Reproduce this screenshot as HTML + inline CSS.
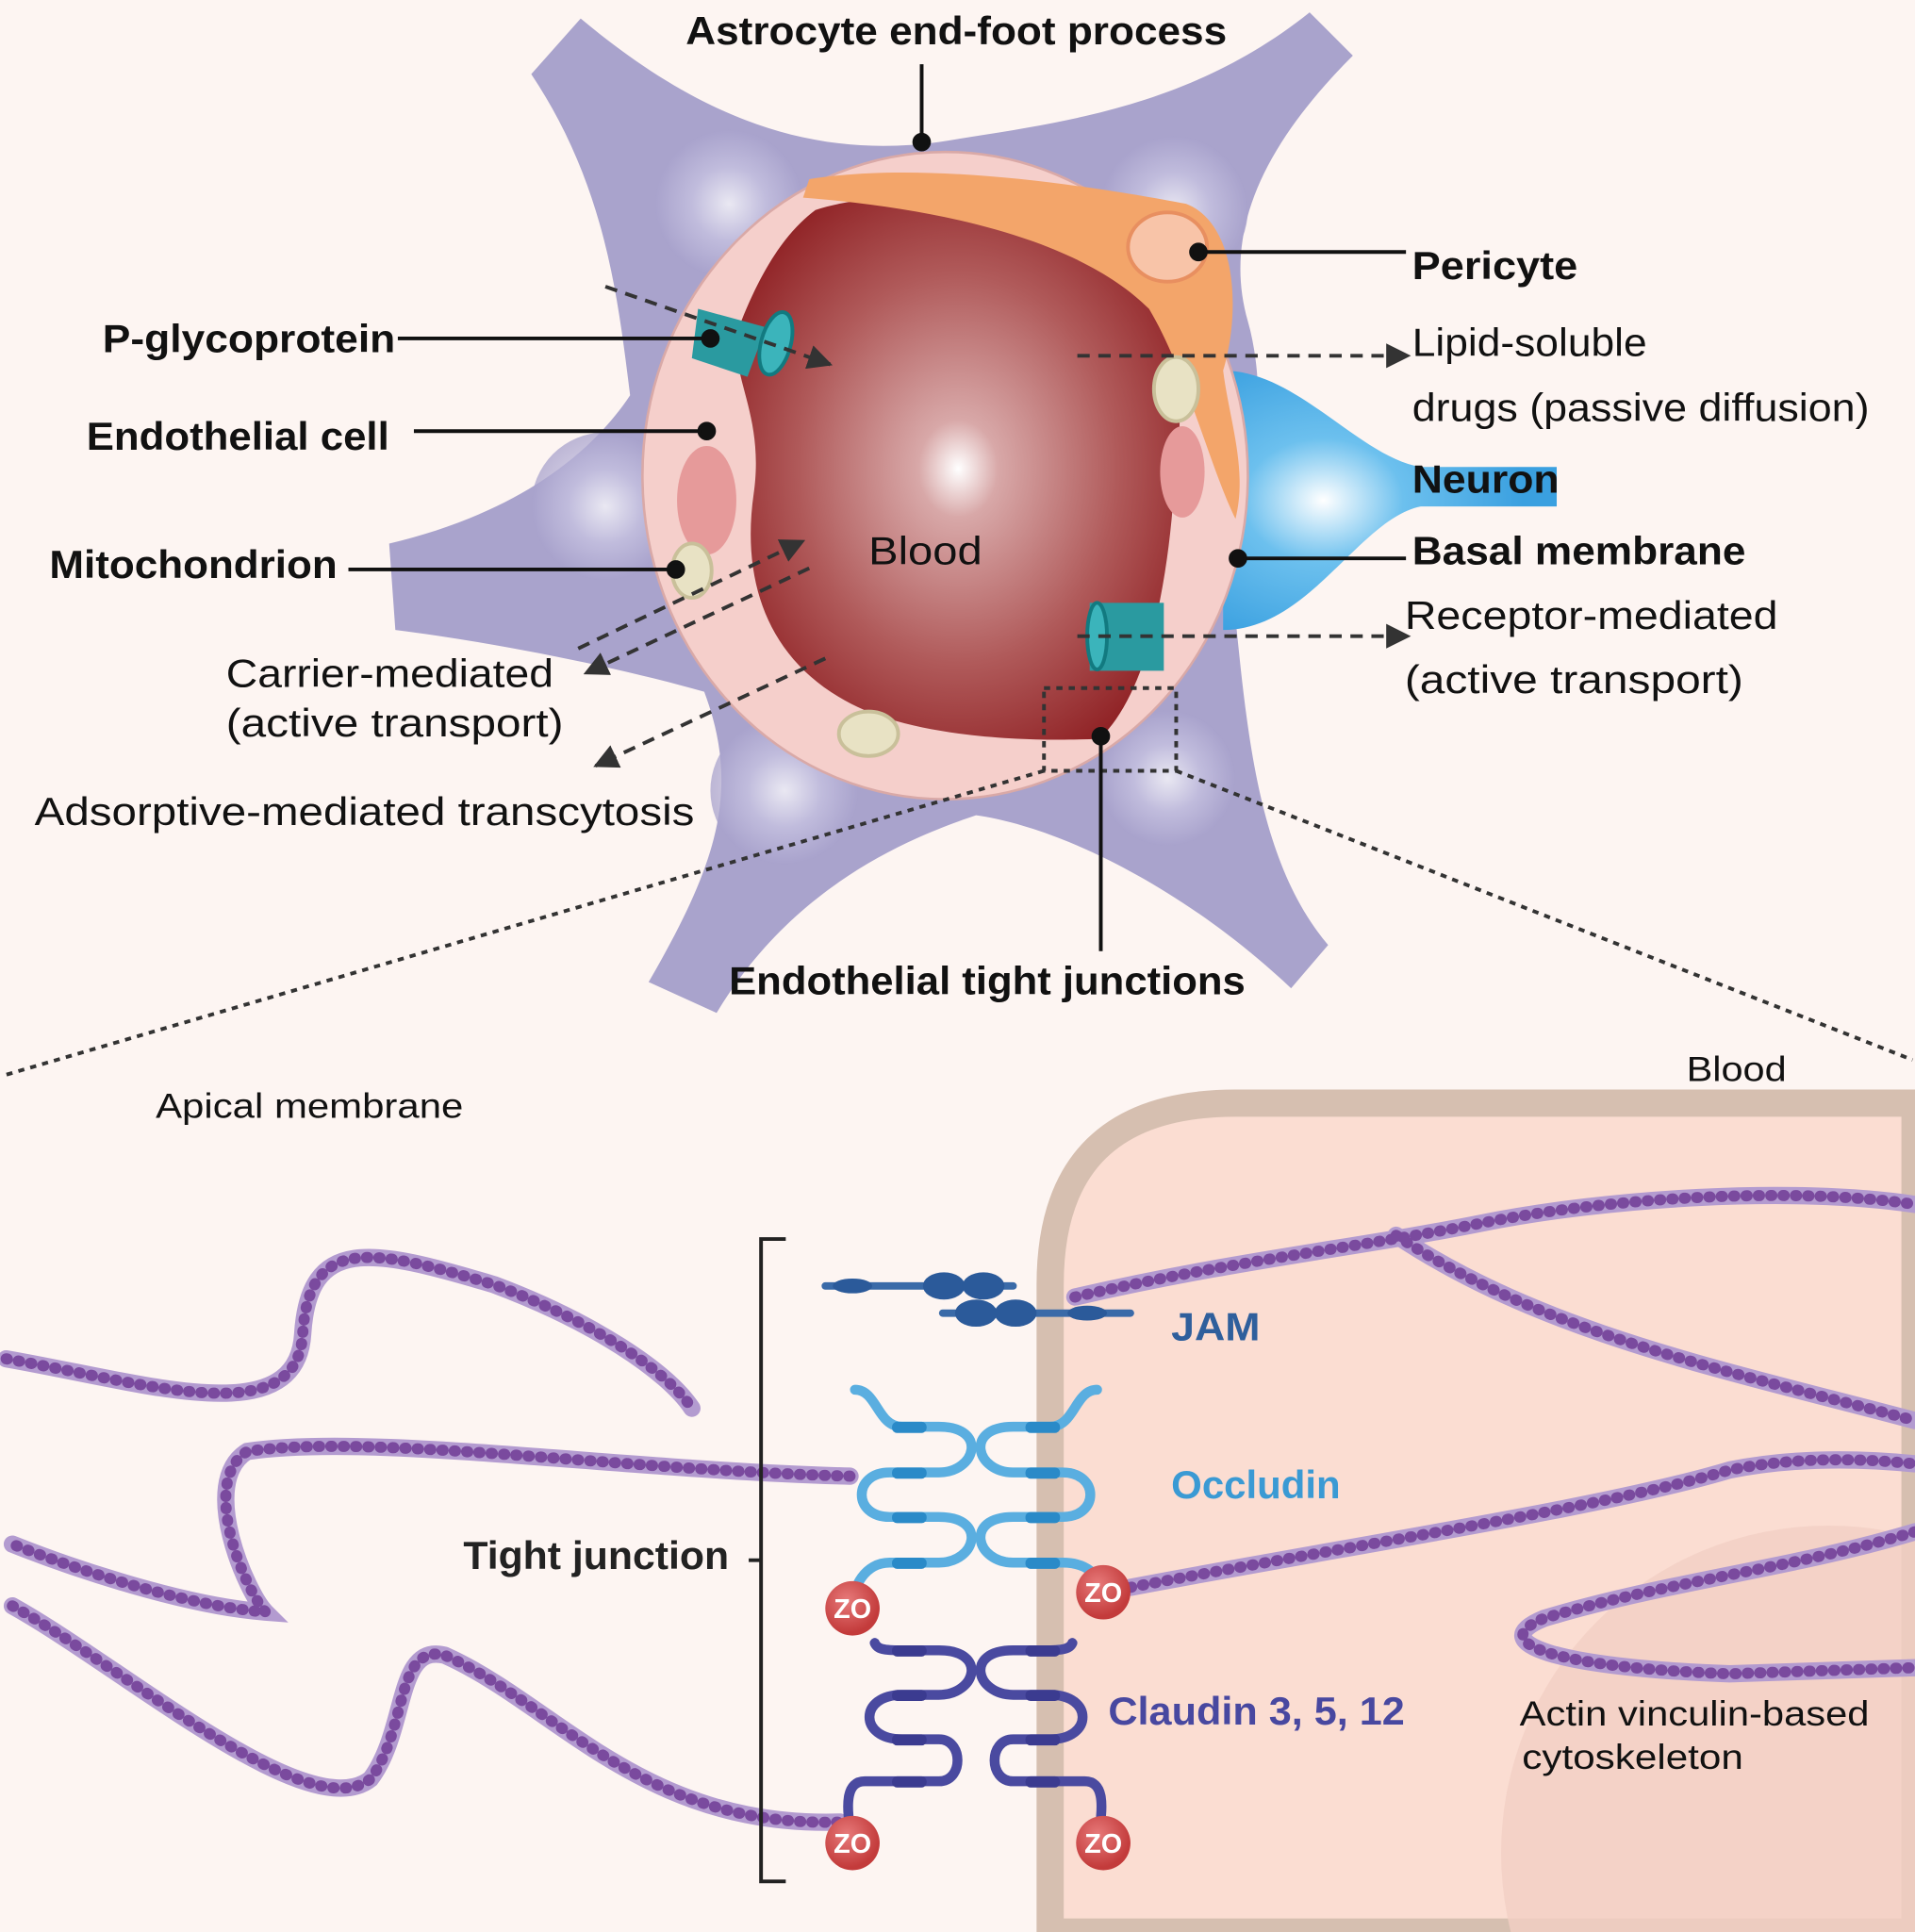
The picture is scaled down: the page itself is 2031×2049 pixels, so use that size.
<!DOCTYPE html>
<html><head><meta charset="utf-8"><style>
html,body{margin:0;padding:0;background:#fdf5f2;overflow:hidden;width:2031px;height:2049px}
svg{display:block}
text{font-family:"Liberation Sans",sans-serif}
</style></head><body>
<svg width="2031" height="2049" viewBox="0 0 1550 1564" preserveAspectRatio="none" xmlns="http://www.w3.org/2000/svg">
<defs>
<radialGradient id="blood" cx="0.5" cy="0.5" r="0.6">
<stop offset="0" stop-color="#ffffff"/><stop offset="0.15" stop-color="#d8a8a8"/><stop offset="0.6" stop-color="#b05a5a"/><stop offset="1" stop-color="#8e1f22"/></radialGradient>
<radialGradient id="astro" cx="0.5" cy="0.5" r="0.5">
<stop offset="0" stop-color="#ffffff"/><stop offset="0.5" stop-color="#c8c4e2"/><stop offset="1" stop-color="#a8a2cc"/></radialGradient>
<radialGradient id="neu" cx="0.3" cy="0.5" r="0.6">
<stop offset="0" stop-color="#ffffff"/><stop offset="0.4" stop-color="#6cc0ee"/><stop offset="1" stop-color="#3aa0e0"/></radialGradient>
<radialGradient id="zo" cx="0.4" cy="0.35" r="0.6"><stop offset="0" stop-color="#e77a7a"/><stop offset="1" stop-color="#c33b3b"/></radialGradient>
<marker id="a2" viewBox="0 0 10 10" markerWidth="20" markerHeight="20" refX="9" refY="5" orient="auto" markerUnits="userSpaceOnUse"><path d="M0,0 L10,5 L0,10z" fill="#333"/></marker>
</defs>
<rect width="1550" height="1564" fill="#fdf5f2"/>
<!-- astrocyte -->
<g fill="#a9a3cc">
<path d="M430,60 L470,15 C560,90 650,130 760,115 C850,100 960,90 1060,10 L1095,45 C1020,120 990,190 1010,260 C1030,330 1010,420 1000,500 C1010,600 1020,700 1075,765 L1045,800 C960,720 860,670 790,660 C730,680 640,720 580,820 L525,795 C580,700 600,640 570,560 C500,540 400,520 320,510 L315,440 C400,420 470,380 510,320 C500,240 490,150 430,60z"/>
</g>
<g fill="url(#astro)" opacity="0.75">
<circle cx="590" cy="165" r="60"/><circle cx="950" cy="170" r="60"/><circle cx="490" cy="410" r="60"/><circle cx="635" cy="640" r="60"/><circle cx="945" cy="630" r="55"/>
</g>
<!-- neuron -->
<path d="M990,300 C1050,300 1100,370 1150,378 L1260,378 L1260,410 L1150,410 C1100,420 1060,510 990,510z" fill="url(#neu)"/>
<!-- vessel -->
<ellipse cx="765" cy="385" rx="245" ry="262" fill="#f5cfcb" stroke="#d9a9a7" stroke-width="2"/>
<path d="M660,170 C720,150 830,160 900,200 C960,240 960,320 950,400 C945,470 930,560 890,598 C850,600 760,600 700,575 C620,540 600,470 610,400 C620,330 585,300 600,260 C620,210 640,185 660,170z" fill="url(#blood)"/>
<!-- pericyte -->
<path d="M655,145 C750,130 880,150 960,165 C1000,180 1005,250 990,300 C995,340 1010,380 1000,420 C980,380 960,300 930,250 C880,200 780,170 650,160z" fill="#f3a56a"/>
<ellipse cx="945" cy="200" rx="32" ry="28" fill="#f8c4a8" stroke="#e88f60" stroke-width="3"/>
<!-- nuclei & mito -->
<ellipse cx="572" cy="405" rx="24" ry="44" fill="#e69a9a"/>
<ellipse cx="957" cy="382" rx="18" ry="37" fill="#e69a9a"/>
<g fill="#e8e2c4" stroke="#c9c09a" stroke-width="3">
<ellipse cx="952" cy="315" rx="18" ry="26"/><ellipse cx="560" cy="462" rx="16" ry="22"/><ellipse cx="703" cy="594" rx="24" ry="18"/></g>
<!-- transporters -->
<g><path d="M565,250 L620,265 L605,305 L560,290z" fill="#2a9aa0"/><ellipse cx="628" cy="278" rx="12" ry="26" fill="#3bb4bb" stroke="#127a80" stroke-width="3" transform="rotate(15 628 278)"/></g>
<g><rect x="882" y="488" width="60" height="55" fill="#2a9aa0"/><ellipse cx="888" cy="515" rx="8" ry="27" fill="#3bb4bb" stroke="#127a80" stroke-width="3"/></g>
<!-- dashed arrows -->
<g stroke="#333" stroke-width="3" stroke-dasharray="10 7" fill="none" marker-end="url(#a2)">
<path d="M490,232 L672,295"/><path d="M872,288 L1140,288"/><path d="M872,515 L1140,515"/>
<path d="M468,525 L650,438"/><path d="M655,460 L474,545"/><path d="M668,533 L482,620"/>
</g>
<!-- zoom box -->
<g stroke="#333" stroke-width="3" stroke-dasharray="5 5" fill="none">
<rect x="845" y="557" width="107" height="67"/>
<path d="M845,624 L5,870"/><path d="M952,624 L1548,858"/>
</g>
<!-- leaders -->
<g stroke="#111" stroke-width="3" fill="#111">
<line x1="746" y1="52" x2="746" y2="115"/><circle cx="746" cy="115" r="6"/>
<line x1="970" y1="204" x2="1138" y2="204"/><circle cx="970" cy="204" r="6"/>
<line x1="322" y1="274" x2="575" y2="274"/><circle cx="575" cy="274" r="6"/>
<line x1="335" y1="349" x2="572" y2="349"/><circle cx="572" cy="349" r="6"/>
<line x1="282" y1="461" x2="547" y2="461"/><circle cx="547" cy="461" r="6"/>
<line x1="1002" y1="452" x2="1138" y2="452"/><circle cx="1002" cy="452" r="6"/>
<line x1="891" y1="596" x2="891" y2="770"/><circle cx="891" cy="596" r="6"/>
</g>
<!-- top labels -->
<g font-weight="bold" font-size="32" fill="#111" lengthAdjust="spacingAndGlyphs">
<text x="555" y="36" textLength="438" lengthAdjust="spacingAndGlyphs">Astrocyte end-foot process</text>
<text x="1143" y="226" textLength="134" lengthAdjust="spacingAndGlyphs">Pericyte</text>
<text x="83" y="285" textLength="237" lengthAdjust="spacingAndGlyphs">P-glycoprotein</text>
<text x="70" y="364" textLength="245" lengthAdjust="spacingAndGlyphs">Endothelial cell</text>
<text x="1143" y="399" textLength="119" lengthAdjust="spacingAndGlyphs">Neuron</text>
<text x="40" y="468" textLength="233" lengthAdjust="spacingAndGlyphs">Mitochondrion</text>
<text x="1143" y="457" textLength="270" lengthAdjust="spacingAndGlyphs">Basal membrane</text>
<text x="590" y="805" textLength="418" lengthAdjust="spacingAndGlyphs">Endothelial tight junctions</text>
</g>
<g font-size="32" fill="#111">
<text x="1143" y="288" textLength="190" lengthAdjust="spacingAndGlyphs">Lipid-soluble</text>
<text x="1143" y="341" textLength="370" lengthAdjust="spacingAndGlyphs">drugs (passive diffusion)</text>
<text x="1137" y="509" textLength="302" lengthAdjust="spacingAndGlyphs">Receptor-mediated</text>
<text x="1137" y="561" textLength="274" lengthAdjust="spacingAndGlyphs">(active transport)</text>
<text x="183" y="556" textLength="265" lengthAdjust="spacingAndGlyphs">Carrier-mediated</text>
<text x="183" y="596" textLength="273" lengthAdjust="spacingAndGlyphs">(active transport)</text>
<text x="28" y="668" textLength="534" lengthAdjust="spacingAndGlyphs">Adsorptive-mediated transcytosis</text>
<text x="703" y="457" textLength="92" lengthAdjust="spacingAndGlyphs">Blood</text>
</g>
<!-- bottom cell -->
<path d="M850,1564 L850,1040 Q850,893 1000,893 L1550,893 L1550,1564z" fill="#fbddd2" stroke="#d6bfb0" stroke-width="22"/>
<circle cx="1480" cy="1500" r="265" fill="#f3d0c4" opacity="0.8"/>
<g font-size="28" fill="#111">
<text x="1365" y="875" textLength="81" lengthAdjust="spacingAndGlyphs">Blood</text>
<text x="126" y="905" textLength="249" lengthAdjust="spacingAndGlyphs">Apical membrane</text>
<text x="1230" y="1397" textLength="283" lengthAdjust="spacingAndGlyphs">Actin vinculin-based</text>
<text x="1232" y="1432" textLength="179" lengthAdjust="spacingAndGlyphs">cytoskeleton</text>
</g>
<!-- actin -->
<g fill="none" stroke-linecap="round">
<g stroke="#b39bd0" stroke-width="14">
<path id="s1" d="M5,1100 C120,1120 240,1160 245,1080 C250,1000 300,1010 400,1040 C480,1070 540,1110 560,1140"/>
<path id="s2" d="M688,1195 C500,1190 300,1160 200,1175 C160,1200 200,1290 215,1305 C150,1300 60,1270 10,1250"/>
<path id="s3" d="M10,1300 C100,1350 250,1480 300,1440 C330,1400 320,1330 360,1340 C450,1380 520,1480 680,1475"/>
<path id="s4" d="M870,1050 C1000,1020 1100,1010 1200,990 C1300,970 1450,960 1550,975"/>
<path id="s5" d="M1130,1000 C1250,1080 1400,1110 1550,1150"/>
<path id="s6" d="M915,1285 C1100,1250 1300,1220 1400,1190 C1450,1180 1500,1180 1550,1185"/>
<path id="s7" d="M1550,1240 C1450,1270 1350,1280 1250,1310 C1200,1330 1260,1350 1400,1355 L1550,1350"/>
</g>
<g stroke="#7a4a9e" stroke-width="9" stroke-dasharray="1 9">
<use href="#s1"/><use href="#s2"/><use href="#s3"/><use href="#s4"/><use href="#s5"/><use href="#s6"/><use href="#s7"/>
</g>
</g>
<!-- bracket -->
<path d="M636,1003 L616,1003 L616,1523 L636,1523 M616,1263 L606,1263" stroke="#222" stroke-width="3" fill="none"/>
<text x="375" y="1270" font-size="32" font-weight="bold" fill="#222" textLength="215" lengthAdjust="spacingAndGlyphs">Tight junction</text>
<!-- JAM -->
<g stroke="#3a6aa8" stroke-width="6" stroke-linecap="round">
<line x1="668" y1="1041" x2="820" y2="1041"/><line x1="763" y1="1063" x2="915" y2="1063"/></g>
<g fill="#2b5a9a"><ellipse cx="690" cy="1041" rx="16" ry="6"/><ellipse cx="764" cy="1041" rx="17" ry="11"/><ellipse cx="796" cy="1041" rx="17" ry="11"/><ellipse cx="790" cy="1063" rx="17" ry="11"/><ellipse cx="822" cy="1063" rx="17" ry="11"/><ellipse cx="880" cy="1063" rx="16" ry="6"/></g>
<text x="948" y="1085" font-size="32" font-weight="bold" fill="#2f5f9c" textLength="72" lengthAdjust="spacingAndGlyphs">JAM</text>
<!-- Occludin -->
<g fill="none" stroke="#5aaee0" stroke-width="8" stroke-linecap="round">
<path d="M692,1125 C710,1125 710,1155 730,1155 L760,1155 C800,1155 790,1192 760,1192 L720,1192 C690,1192 690,1228 720,1228 L760,1228 C800,1228 790,1265 760,1265 L720,1265 C700,1265 690,1285 690,1300"/>
<path d="M888,1125 C870,1125 870,1155 850,1155 L820,1155 C780,1155 790,1192 820,1192 L860,1192 C890,1192 890,1228 860,1228 L820,1228 C780,1228 790,1265 820,1265 L860,1265 C880,1265 890,1275 893,1290"/>
</g>
<g fill="#2a8ac8"><rect x="722" y="1151" width="28" height="9" rx="4"/><rect x="722" y="1188" width="28" height="9" rx="4"/><rect x="722" y="1224" width="28" height="9" rx="4"/><rect x="722" y="1261" width="28" height="9" rx="4"/><rect x="830" y="1151" width="28" height="9" rx="4"/><rect x="830" y="1188" width="28" height="9" rx="4"/><rect x="830" y="1224" width="28" height="9" rx="4"/><rect x="830" y="1261" width="28" height="9" rx="4"/></g>
<text x="948" y="1213" font-size="32" font-weight="bold" fill="#3a9ad4" textLength="137" lengthAdjust="spacingAndGlyphs">Occludin</text>
<!-- Claudin -->
<g fill="none" stroke="#4a4aa0" stroke-width="8" stroke-linecap="round">
<path d="M708,1330 C710,1335 715,1336 730,1336 L760,1336 C800,1336 790,1372 760,1372 L730,1372 C695,1372 695,1408 730,1408 L760,1408 C780,1408 780,1442 760,1442 L700,1442 C685,1442 685,1460 688,1480"/>
<path d="M868,1330 C866,1335 860,1336 845,1336 L820,1336 C780,1336 790,1372 820,1372 L850,1372 C885,1372 885,1408 850,1408 L820,1408 C800,1408 800,1442 820,1442 L878,1442 C893,1442 893,1460 890,1480"/>
</g>
<g fill="#3b3b90"><rect x="722" y="1332" width="28" height="9" rx="4"/><rect x="722" y="1368" width="28" height="9" rx="4"/><rect x="722" y="1404" width="28" height="9" rx="4"/><rect x="722" y="1438" width="28" height="9" rx="4"/><rect x="830" y="1332" width="28" height="9" rx="4"/><rect x="830" y="1368" width="28" height="9" rx="4"/><rect x="830" y="1404" width="28" height="9" rx="4"/><rect x="830" y="1438" width="28" height="9" rx="4"/></g>
<text x="897" y="1396" font-size="32" font-weight="bold" fill="#4848a0" textLength="240" lengthAdjust="spacingAndGlyphs">Claudin 3, 5, 12</text>
<!-- ZO -->
<g font-size="22" font-weight="bold" fill="#fff" text-anchor="middle">
<circle cx="690" cy="1302" r="22" fill="url(#zo)"/><text x="690" y="1310">ZO</text>
<circle cx="893" cy="1289" r="22" fill="url(#zo)"/><text x="893" y="1297">ZO</text>
<circle cx="690" cy="1492" r="22" fill="url(#zo)"/><text x="690" y="1500">ZO</text>
<circle cx="893" cy="1492" r="22" fill="url(#zo)"/><text x="893" y="1500">ZO</text>
</g>
</svg>
</body></html>
